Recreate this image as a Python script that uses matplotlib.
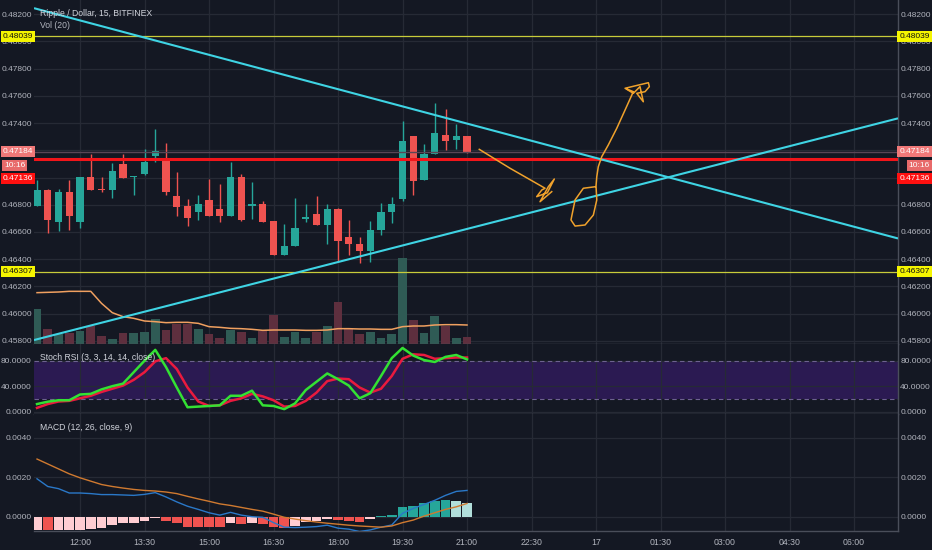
import matplotlib
matplotlib.use('Agg')
import matplotlib.pyplot as plt
import matplotlib.transforms as mtransforms
import numpy as np

# ---------------- data ----------------
start_time = '11:00'
bar_minutes = 15
opens = [0.46792, 0.46909, 0.46670, 0.46890, 0.46674, 0.47005, 0.46917, 0.46905, 0.47096, 0.47003,
         0.47025, 0.47155, 0.47140, 0.46865, 0.46787, 0.46743, 0.46836, 0.46767, 0.46719, 0.47005,
         0.46794, 0.46807, 0.46682, 0.46428, 0.46494, 0.46694, 0.46733, 0.46650, 0.46770, 0.46560,
         0.46511, 0.46457, 0.46614, 0.46743, 0.46841, 0.47306, 0.46983, 0.47172, 0.47314, 0.47275,
         0.47306]
highs = [0.46983, 0.46915, 0.46915, 0.46983, 0.47005, 0.47174, 0.47005, 0.47106, 0.47172, 0.47010,
         0.47209, 0.47355, 0.47253, 0.47042, 0.46841, 0.46873, 0.46988, 0.46951, 0.47111, 0.47023,
         0.46966, 0.46829, 0.46682, 0.46660, 0.46851, 0.46807, 0.46865, 0.46807, 0.46775, 0.46689,
         0.46562, 0.46682, 0.46816, 0.46856, 0.47417, 0.47306, 0.47248, 0.47551, 0.47507, 0.47395,
         0.47306]
lows = [0.46787, 0.46592, 0.46604, 0.46611, 0.46628, 0.46905, 0.46897, 0.46848, 0.47000, 0.46868,
        0.47020, 0.47111, 0.46868, 0.46714, 0.46640, 0.46684, 0.46714, 0.46670, 0.46719, 0.46677,
        0.46694, 0.46670, 0.46428, 0.46428, 0.46494, 0.46670, 0.46650, 0.46513, 0.46384, 0.46433,
        0.46372, 0.46377, 0.46577, 0.46665, 0.46824, 0.46873, 0.46983, 0.47172, 0.47204, 0.47211,
        0.47179]
closes = [0.46909, 0.46684, 0.46890, 0.46719, 0.47005, 0.46909, 0.46905, 0.47045, 0.47000, 0.47010,
          0.47113, 0.47196, 0.46892, 0.46782, 0.46701, 0.46807, 0.46719, 0.46714, 0.47005, 0.46689,
          0.46807, 0.46674, 0.46428, 0.46494, 0.46628, 0.46711, 0.46650, 0.46770, 0.46535, 0.46513,
          0.46457, 0.46616, 0.46748, 0.46807, 0.47270, 0.46971, 0.47174, 0.47326, 0.47272, 0.47306,
          0.47184]
volume = [104, 44, 29, 34, 40, 54, 24, 15, 32, 32, 36, 76, 42, 60, 60, 44, 31, 17, 41, 37,
          17, 39, 86, 20, 36, 17, 35, 55, 126, 44, 30, 37, 17, 31, 258, 72, 34, 84, 54, 17, 21]
volume_ma = [154, 155, 156, 158, 158, 158, 122, 94, 82, 77, 69, 67, 64, 65, 65, 62, 52, 50, 47, 46,
             44, 41, 42, 42, 42, 41, 41, 42, 46, 46, 45, 45, 44, 44, 52, 54, 54, 57, 58, 58, 57]
stoch_k = [12, 15.7, 18, 18, 27, 28, 35, 40, 44, 62, 80, 97, 70, 38, 7, 8, 9, 10, 25, 25,
           33, 10, 9, 4, 13, 34, 47, 60, 51, 41, 21, 29, 56, 84, 100, 88, 81, 78, 86, 89, 82]
stoch_d = [6, 12, 16, 17, 21, 25, 31, 36, 41, 50, 62, 79, 84, 67, 38, 16, 9, 10, 17, 21,
           28, 24, 18, 8, 9, 17, 30, 48, 52, 51, 38, 30, 36, 56, 83, 90, 89, 83, 84, 85, 85]
macd_hist = [-0.00066, -0.00068, -0.00067, -0.00066, -0.00065, -0.00064, -0.00058, -0.00043, -0.00033, -0.00030,
             -0.00020, -0.00008, -0.00020, -0.00033, -0.00050, -0.00051, -0.00052, -0.00053, -0.00033, -0.00037,
             -0.00033, -0.00037, -0.00053, -0.00058, -0.00045, -0.00027, -0.00023, -0.00010, -0.00017, -0.00020,
             -0.00027, -0.00013, 0.00002, 0.00008, 0.00050, 0.00055, 0.00067, 0.00082, 0.00083, 0.00077,
             0.00067]
macd_line = [0.00192, 0.00153, 0.00142, 0.00120, 0.00120, 0.00117, 0.00112, 0.00112, 0.00110, 0.00108,
             0.00113, 0.00122, 0.00100, 0.00075, 0.00053, 0.00037, 0.00020, 0.00008, 0.00022, 0.00008,
             0.00000, -0.00003, -0.00030, -0.00053, -0.00055, -0.00053, -0.00050, -0.00043, -0.00058, -0.00063,
             -0.00075, -0.00067, -0.00053, -0.00042, 0.00017, 0.00042, 0.00062, 0.00083, 0.00108, 0.00128,
             0.00133]
macd_signal = [0.00292, 0.00267, 0.00242, 0.00217, 0.00197, 0.00180, 0.00163, 0.00153, 0.00145, 0.00138,
               0.00133, 0.00130, 0.00125, 0.00117, 0.00103, 0.00090, 0.00078, 0.00065, 0.00057, 0.00047,
               0.00037, 0.00028, 0.00013, -0.00003, -0.00012, -0.00020, -0.00027, -0.00033, -0.00038, -0.00043,
               -0.00047, -0.00050, -0.00053, -0.00047, -0.00030, -0.00017, 0.00003, 0.00020, 0.00037, 0.00050,
               0.00067]
tick_labels = ['12:00', '13:30', '15:00', '16:30', '18:00', '19:30', '21:00', '22:30', '17',
               '01:30', '03:00', '04:30', '06:00']
tick_times = ['12:00', '13:30', '15:00', '16:30', '18:00', '19:30', '21:00', '22:30', '00:00',
              '01:30', '03:00', '04:30', '06:00']
levels_yellow = [0.48039, 0.46307]
last_price = 0.47184
red_level = 0.47136
countdown = '10:16'
# trend lines: (bar index, price)
trend_down = [(-0.28, 0.48245), (80.09, 0.46552)]
trend_up = [(-0.28, 0.45805), (80.09, 0.47435)]
# freehand drawings: bar index, price
draw1_x = [41.14, 44.0, 47.26, 46.95, 46.48, 47.47, 48.12, 47.56, 46.79, 47.88]
draw1_y = [0.47207, 0.47068, 0.46921, 0.46908, 0.46859, 0.46888, 0.46989, 0.46932, 0.46822, 0.46896]
draw2_x = [51.91, 50.82, 50.05, 49.67, 50.05, 50.98, 51.75, 52.07, 52.0, 52.07, 52.21, 52.53, 53.14,
           53.93, 54.70, 55.47, 54.70, 56.87, 56.96, 56.56, 55.79, 56.40, 56.09, 55.47, 54.85]
draw2_y = [0.46932, 0.46921, 0.46835, 0.46688, 0.46643, 0.46651, 0.46724, 0.46835, 0.46937, 0.47006,
           0.47079, 0.47153, 0.47239, 0.47362, 0.47496, 0.47631, 0.47656, 0.47697, 0.47668, 0.47631,
           0.47619, 0.47557, 0.47668, 0.47619, 0.47649]

# ---------------- style ----------------
BG = '#141823'
GRID = '#262a35'
BORDER = '#4a4e5a'
TXT = '#b2b5be'
UP = '#26a69a'
DN = '#ef5350'
FONT = 'Liberation Sans'
FS = 6.0

plt.rcParams['font.family'] = [FONT, 'DejaVu Sans']

n = len(opens)
x = np.arange(n)


def tpos(t):
    h, m = map(int, t.split(':'))
    h0, m0 = map(int, start_time.split(':'))
    mins = h * 60 + m - (h0 * 60 + m0)
    if mins < 0:
        mins += 24 * 60
    return mins / bar_minutes


ticks = [tpos(t) for t in tick_times]

fig = plt.figure(figsize=(9.32, 5.5), dpi=100)
fig.patch.set_facecolor(BG)
FW, FH = 932, 550
L = 34 / FW
W = 864 / FW
ax = fig.add_axes([L, 1 - 344 / FH, W, 344 / FH])
ax_s = fig.add_axes([L, 1 - 414 / FH, W, 70 / FH], sharex=ax)
ax_m = fig.add_axes([L, 1 - 531 / FH, W, 117 / FH], sharex=ax)

XMIN, XMAX = -0.28, 80.09
P_TOP, P_BOT = 0.48305, 0.45776
ax.set_xlim(XMIN, XMAX)
ax.set_ylim(P_BOT, P_TOP)
ax_s.set_ylim(-3.6, 106.2)
ax_m.set_ylim(-0.000724, 0.0052)

for a in (ax, ax_s, ax_m):
    a.set_facecolor(BG)
    a.set_xticks(ticks)
    a.grid(True, color=GRID, lw=0.9)
    a.set_axisbelow(True)
    a.tick_params(axis='y', which='both', left=False, right=False, labelleft=True,
                  labelright=True, labelsize=FS, labelcolor=TXT, length=0, pad=1.6)
    a.tick_params(axis='x', bottom=False, labelbottom=False, length=0)
    for s in ('top', 'left'):
        a.spines[s].set_visible(False)
    a.spines['right'].set_color(BORDER)
    a.spines['bottom'].set_color(BORDER)
    a.spines['right'].set_linewidth(1.0)
    a.spines['bottom'].set_linewidth(1.0)

ax_m.tick_params(axis='x', labelbottom=True, labelsize=FS + 0.3, labelcolor=TXT, pad=5)
ax_m.set_xticklabels(tick_labels)

ax.set_yticks(np.arange(0.458, 0.4821, 0.002))
ax.yaxis.set_major_formatter(matplotlib.ticker.FormatStrFormatter('%.5f'))
ax_s.set_yticks([0, 40, 80])
ax_s.yaxis.set_major_formatter(matplotlib.ticker.FormatStrFormatter('%.4f'))
ax_m.set_yticks([0, 0.002, 0.004])
ax_m.yaxis.set_major_formatter(matplotlib.ticker.FormatStrFormatter('%.4f'))

# ---------------- volume (bottom of price pane) ----------------
VOL_TOP = 344 * 3
vscale = (P_TOP - P_BOT) / VOL_TOP
vcols = ['#2f5b55' if c >= o else '#5e2f3e' for o, c in zip(opens, closes)]
ax.bar(x, np.array(volume) * vscale, bottom=P_BOT, width=0.82, color=vcols, zorder=1)
ax.plot(x, P_BOT + np.array(volume_ma) * vscale, color='#f0a060', lw=1.1, zorder=2)

# ---------------- candles ----------------
for i in range(n):
    o, h, l, c = opens[i], highs[i], lows[i], closes[i]
    col = UP if c >= o else DN
    ax.vlines(i, l, h, color=col, lw=1.0, zorder=3)
    lo, hi = min(o, c), max(o, c)
    ax.bar(i, max(hi - lo, 0.00003), bottom=lo, width=0.66, color=col, zorder=4, lw=0)

# ---------------- levels & drawings ----------------
for lv in levels_yellow:
    ax.axhline(lv, color='#c8cc3a', lw=0.9, zorder=5)
ax.axhline(last_price, color='#5a4656', lw=1.0, zorder=5)
ax.axhline(red_level, color='#f2151a', lw=2.2, zorder=6)

for seg in (trend_down, trend_up):
    ax.plot([p[0] for p in seg], [p[1] for p in seg], color='#3fd4e4', lw=1.5, zorder=7,
            solid_capstyle='butt')

ax.plot(draw1_x, draw1_y, color='#f0a22c', lw=1.1, zorder=8, solid_joinstyle='round')
ax.plot(draw2_x, draw2_y, color='#f0a22c', lw=1.1, zorder=8, solid_joinstyle='round')

# axis labels for levels
btr = mtransforms.blended_transform_factory(ax.transAxes, ax.transData)
row = (P_TOP - P_BOT) / 344 * 13.6
edge_l = -1.0 / 864
edge_r = 1 + 1.5 / 864


def axis_label(y, s, fc, tc, left=True, right=True):
    kw = dict(transform=btr, va='center', fontsize=FS, color=tc, clip_on=False, zorder=20,
              bbox=dict(boxstyle='square,pad=0.25', fc=fc, ec='none'))
    if left:
        ax.text(edge_l, y, s, ha='right', **kw)
    if right:
        ax.text(edge_r, y, s, ha='left', **kw)


lab_y = last_price + 0.00006
for lv in levels_yellow:
    axis_label(lv, f'{lv:.5f}', '#f5f500', '#111111')
axis_label(lab_y, f'{last_price:.5f}', '#f07878', 'white')
axis_label(lab_y - 2 * row, f'{red_level:.5f}', '#ff1010', 'white')
kw_cd = dict(transform=btr, va='center', fontsize=FS, color='white', clip_on=False, zorder=20,
             bbox=dict(boxstyle='square,pad=0.25', fc='#e86a6a', ec='none'))
ax.text(-30 / 864, lab_y - row, countdown, ha='left', **kw_cd)
ax.text(1 + 32 / 864, lab_y - row, countdown, ha='right', **kw_cd)

# titles
TFS = 6.2
ax.text(6 / 864, 1 - 13 / 344, 'Ripple / Dollar, 15, BITFINEX', transform=ax.transAxes,
        fontsize=TFS, color='#d1d4dc', va='center', ha='left', zorder=21)
ax.text(6 / 864, 1 - 26 / 344, 'Vol (20)', transform=ax.transAxes,
        fontsize=TFS, color='#b2b5be', va='center', ha='left', zorder=21)

# ---------------- stoch RSI ----------------
ax_s.axhspan(20, 80, color='#2b1a52', zorder=0.5, lw=0)
for lv in (80, 20):
    ax_s.axhline(lv, color='#6e6290', lw=0.8, ls=(0, (4, 3)), zorder=1)
ax_s.plot(x, stoch_d, color='#ea1a3e', lw=1.8, zorder=3)
ax_s.plot(x, stoch_k, color='#33e133', lw=1.8, zorder=4)
ax_s.text(6 / 864, 1 - 13 / 70, 'Stoch RSI (3, 3, 14, 14, close)', transform=ax_s.transAxes,
          fontsize=TFS, color='#d1d4dc', va='center', ha='left', zorder=21)

# ---------------- MACD ----------------
hcols = []
prev = None
for v in macd_hist:
    rising = prev is None or v > prev
    if v >= 0:
        hcols.append(UP if rising else '#b2dfdb')
    else:
        hcols.append('#ffcdd2' if rising else DN)
    prev = v
ax_m.bar(x, macd_hist, width=0.9, color=hcols, zorder=2, lw=0)
ax_m.plot(x, macd_line, color='#2a78c8', lw=1.0, zorder=3)
ax_m.plot(x, macd_signal, color='#d07a30', lw=1.0, zorder=4)
ax_m.text(6 / 864, 1 - 13 / 117, 'MACD (12, 26, close, 9)', transform=ax_m.transAxes,
          fontsize=TFS, color='#d1d4dc', va='center', ha='left', zorder=21)

fig.savefig('out.png', dpi=100, facecolor=BG)
